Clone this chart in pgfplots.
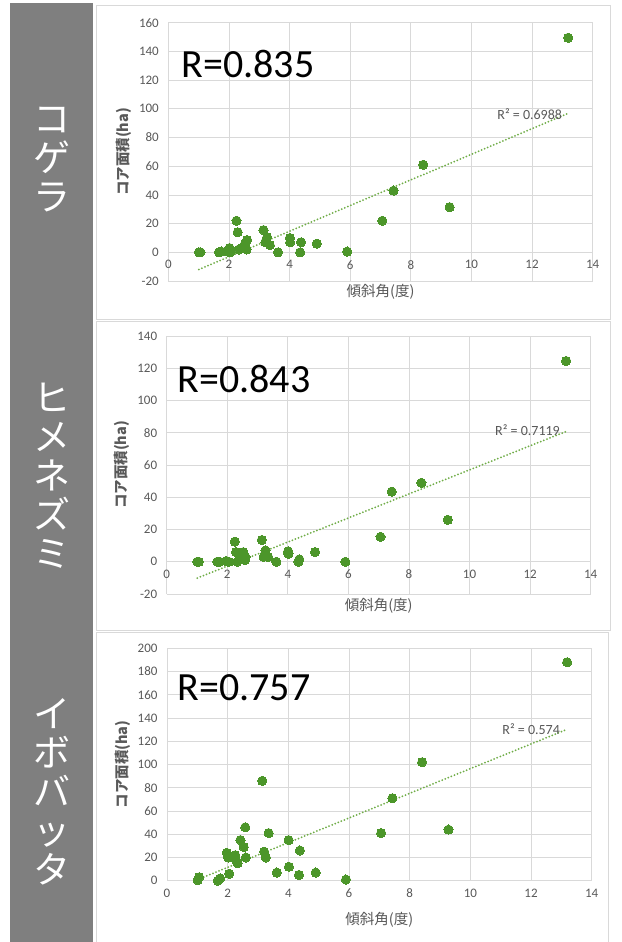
\documentclass[border=0pt]{standalone}
\usepackage{pgfplots}
\usepackage{pgfplotstable}
\pgfplotsset{compat=1.18}
\usepackage{fontspec}
\setmainfont{Carlito}
\newfontfamily\cjk{Noto Sans CJK JP}
\definecolor{barc}{HTML}{7F7F7F}
\definecolor{gridc}{HTML}{D9D9D9}
\definecolor{tickc}{HTML}{595959}
\definecolor{ptc}{RGB}{76,150,42}
\definecolor{trendc}{HTML}{70AD47}

\pgfplotstableread{
x a b c
1.01 0 0 0.5
1.06 0 0 3
1.67 0 0 0
1.75 0.5 0 2
1.97 0.5 0.5 24
2.02 3 0 20
2.05 0 0 6
2.25 22 12.5 22
2.29 14 6 17
2.33 2 0 15
2.42 3 2.5 35
2.53 6 6 29
2.58 2 1 46
2.60 8.5 3 20
3.14 15.5 13.5 86
3.20 7 3 25
3.26 10.5 7 20
3.35 5 3 41
3.62 0 0 7
4.01 10 6.5 35
4.02 7 5 12
4.35 0 0 5
4.38 7 1.5 26
4.90 6 6 7
5.90 0.5 0 1
7.06 22 15.5 41
7.43 43 43.5 71
8.41 61 49 102
9.28 31.5 26 44
13.19 149.5 124.5 188
}\datatab

\tikzset{
  rbig/.style={anchor=west, font=\fontsize{40}{40}\selectfont, text=black},
  rsq/.style={anchor=west, font=\fontsize{14}{14}\selectfont, text=tickc},
  ylab/.style={rotate=90, font=\cjk\bfseries\fontsize{14.5}{14.5}\selectfont, text=tickc},
  xlab/.style={font=\cjk\fontsize{14.5}{14.5}\selectfont, text=tickc},
  trend/.style={trendc, line width=2pt, line cap=round, dash pattern=on 0pt off 3.3pt},
  side/.style={text=white, font=\cjk\fontsize{37}{39}\selectfont, align=center},
}
\pgfplotsset{
  panel/.style={
    scale only axis, anchor=south west,
    xmin=0, xmax=14, xtick={0,2,...,14},
    axis x line=middle, axis y line=left,
    x axis line style={-, draw=gridc, line width=0.8pt},
    y axis line style={draw=none},
    major tick length=0pt,
    grid=major, major grid style={draw=gridc, line width=0.7pt},
    tick label style={font=\fontsize{13}{13}\selectfont, text=tickc},
    /pgf/number format/assume math mode=true,
    hide obscured x ticks=false, hide obscured y ticks=false,
    xticklabel style={anchor=north, yshift=-4.5pt},
    yticklabel style={anchor=east, xshift=-6pt},
    clip=false,
  },
  pts/.style={only marks, color=ptc, mark=*, mark size=4.6pt, mark options={fill=ptc, draw=ptc, line width=0pt}},
}

\begin{document}
\begin{tikzpicture}
\path[use as bounding box, fill=white] (0,0) rectangle (621pt,-942pt);
% left grey bar
\fill[barc] (10pt,-3pt) rectangle (93pt,-942pt);
\node[side] at (52pt,-160pt) {コ\\ゲ\\ラ};
\node[side] at (52pt,-476pt) {ヒ\\メ\\ネ\\ズ\\ミ};
\node[side] at (52pt,-792pt) {イ\\ボ\\バ\\ッ\\タ};
% panel frames
\draw[gridc, line width=0.8pt] (96pt,-5pt) rectangle (610pt,-319pt);
\draw[gridc, line width=0.8pt] (96pt,-321pt) rectangle (610pt,-630pt);
\draw[gridc, line width=0.8pt] (96pt,-632pt) rectangle (608pt,-945pt);

% panel 1
\begin{axis}[panel, at={(168.3pt,-281pt)}, width=424.4pt, height=258.3pt,
  ymin=-20, ymax=160, ytick={-20,0,...,160}]
\addplot[trend] coordinates {(1.01,-12) (13.19,96.8)};
\addplot[pts] table[x=x, y=a] {\datatab};
\node[rbig] at (axis cs:0.32,131) {R=0.835};
\node[rsq] at (axis cs:10.74,96.4) {R² = 0.6988};
\node[ylab] at (rel axis cs:-0.105,0.5) {コア面積(ha)};
\node[xlab] at (rel axis cs:0.5,0) [yshift=-11pt] {傾斜角(度)};
\end{axis}

% panel 2
\begin{axis}[panel, at={(166.7pt,-594pt)}, width=424pt, height=258pt,
  ymin=-20, ymax=140, ytick={-20,0,...,140}]
\addplot[trend] coordinates {(1.01,-10.1) (13.19,80.8)};
\addplot[pts] table[x=x, y=b] {\datatab};
\node[rbig] at (axis cs:0.24,113.3) {R=0.843};
\node[rsq] at (axis cs:10.73,81.7) {R² = 0.7119};
\node[ylab] at (rel axis cs:-0.105,0.5) {コア面積(ha)};
\node[xlab] at (rel axis cs:0.5,0) [yshift=-12pt] {傾斜角(度)};
\end{axis}

% panel 3
\begin{axis}[panel, at={(167pt,-880.7pt)}, width=424.7pt, height=232.4pt,
  ymin=0, ymax=200, ytick={0,20,...,200}]
\addplot[trend] coordinates {(1.01,1.0) (13.19,130.3)};
\addplot[pts] table[x=x, y=c] {\datatab};
\node[rbig] at (axis cs:0.23,166.3) {R=0.757};
\node[rsq] at (axis cs:10.94,130.3) {R² = 0.574};
\node[ylab] at (rel axis cs:-0.105,0.5) {コア面積(ha)};
\node[xlab] at (rel axis cs:0.5,0) [yshift=-39pt] {傾斜角(度)};
\end{axis}
\end{tikzpicture}
\end{document}
